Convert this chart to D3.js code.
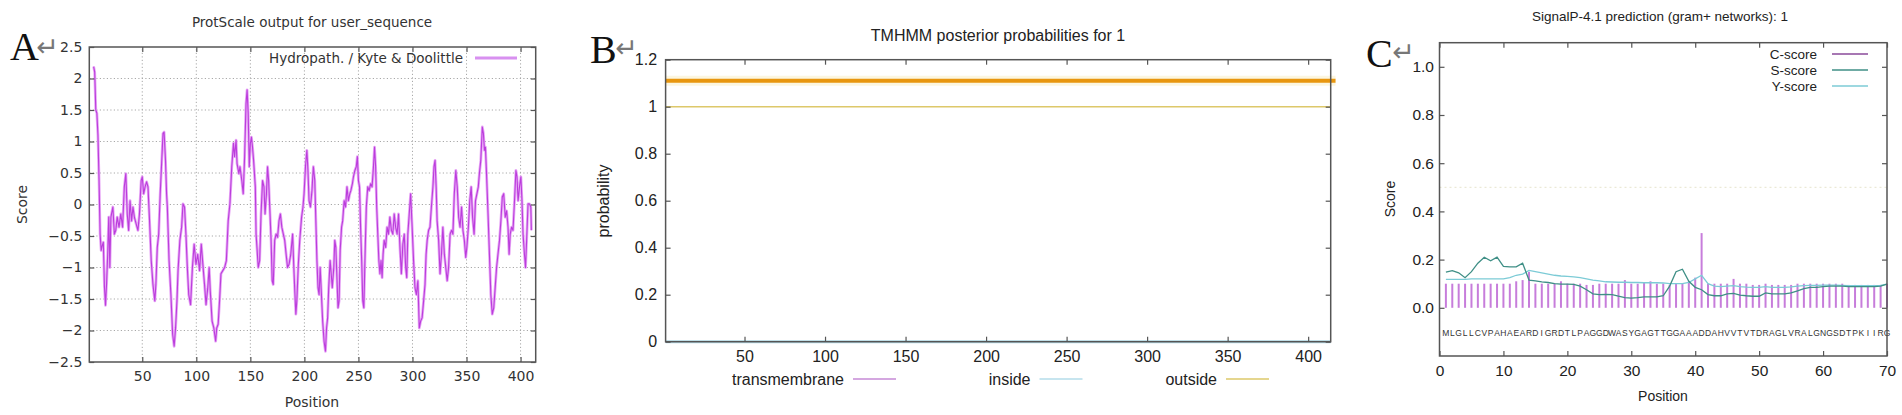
<!DOCTYPE html>
<html><head><meta charset="utf-8">
<script src="https://cdn.jsdelivr.net/npm/d3@7"></script>
<style>body{margin:0;background:#fff;overflow:hidden}</style>
</head><body>
<script>
// ---------- Panel A: ProtScale (Kyte & Doolittle hydropathy) ----------
const protPos = [5,6,7,8,9,10,11,12,13,14,15,16,17,18,19,20,21,22.8,24.2,25.5,26.8,28.5,30.1,31.8,33.4,34.8,36.1,37.4,38.7,40.1,41.4,42.7,44.4,46,47.4,49,50,51.3,52.6,54,55.3,56.6,58.3,59.9,61.6,62.6,63.9,65.2,66.6,68.2,69.2,70.2,71.5,72.5,73.2,74.8,76.5,78.1,79.5,80.8,82.1,83.1,84.8,86.4,87.7,89.1,90.4,91.7,93,94.7,96.4,98,99.7,101.3,103,104.6,106.3,107.6,109,110.6,111.9,112.9,114.6,116.2,117.9,118.9,120.2,121.5,122.8,124.5,126.2,127.8,129.5,131.1,132.8,134.4,135.4,136.8,137.7,139.4,140.4,142.1,143.4,144.7,146,147,148,149,150,151,152,153,154.6,155.3,156.3,157.3,158.6,159.9,161.3,162.6,163.6,164.9,165.9,166.9,168.2,169.2,170.2,171.2,172.5,173.8,175.2,176.5,177.8,179.1,180.5,181.8,183.1,184.4,185.8,187.4,189.1,190.1,191.1,192.1,193,194.4,195.7,197.4,198.7,199.7,201,202.3,203.3,204.3,205.6,207,208.3,209.6,210.6,211.6,212.6,213.6,214.6,215.6,216.9,218.2,219.5,220.5,221.5,222.5,223.8,224.8,225.8,227.2,228.1,229.1,230.1,231.1,232.1,233.1,234.4,235.4,236.8,238.1,239.4,240.7,242,243,244.4,245.4,246.7,248,249,250,251,252,253,254,255,256,257.3,258.6,259.9,261.3,262.6,263.9,264.9,265.9,266.9,267.9,268.9,269.9,270.9,271.9,272.8,273.8,275.2,276.5,277.8,279.1,280.5,281.8,283.1,284.4,285.8,287.1,288.4,289.7,291.1,292.4,293.7,294.7,295.7,297,298.3,299.7,301,302.3,303.6,305,306.3,307.6,308.9,310.3,311.6,312.6,313.6,314.9,316.2,317.5,318.9,319.9,320.9,321.9,322.8,324.2,325.5,326.8,328.1,329.5,330.8,332.1,333.4,334.8,336.1,337.4,338.7,340.1,341.4,342.7,344,345.4,346.7,348,349.3,350.3,351.7,353,354.3,355.6,357,358.3,359.6,360.9,361.9,363.2,364.6,365.6,366.6,367.5,368.5,369.9,371.2,372.5,373.8,375.2,376.5,377.8,379.1,380.5,381.8,383.1,384.4,385.8,387.1,388.4,389.4,390.4,391.7,393,394.4,395.7,396.7,397.7,399,400.3,401.3,402.3,403.6,404.6,405.6,406.9,408.2,409.5,410];
const protScore = [2.19,2.1,1.5,1.45,1.1,0.4,-0.47,-0.73,-0.65,-0.6,-1.3,-1.6,-1.25,-0.8,-0.2,-1.0,-0.2,-0.04,-0.47,-0.41,-0.2,-0.36,-0.15,-0.36,0.28,0.49,-0.15,-0.41,0.06,-0.26,-0.04,-0.2,-0.31,-0.41,-0.15,0.38,0.44,0.17,0.28,0.36,0.28,-0.2,-0.89,-1.27,-1.53,-1.27,-0.68,-0.47,0.17,0.76,1.13,1.15,0.7,0.17,-0.04,-0.89,-1.43,-2.06,-2.25,-1.96,-1.53,-1.05,-0.57,-0.36,0.01,-0.04,-0.47,-1.0,-1.43,-1.59,-1.0,-0.63,-0.95,-0.79,-1.05,-0.63,-1.0,-1.27,-1.59,-1.32,-1.0,-1.37,-1.85,-1.96,-2.17,-1.96,-1.9,-1.53,-1.1,-1.05,-1.0,-0.89,-0.26,0.01,0.6,0.97,0.76,1.02,0.65,0.49,0.6,0.38,0.17,0.76,1.6,1.82,1.45,0.6,0.97,1.07,0.91,0.7,0.28,-0.47,-0.73,-1.0,-0.89,-0.15,0.38,0.28,-0.15,0.17,0.6,0.38,-0.15,-0.57,-1.21,-1.27,-0.57,-0.47,-0.52,-0.26,-0.15,-0.36,-0.47,-0.57,-0.79,-1.0,-0.95,-0.79,-0.47,-0.95,-1.37,-1.74,-1.53,-0.95,-0.57,-0.2,-0.04,0.17,0.6,0.86,0.54,0.06,-0.04,0.22,0.6,0.38,-0.26,-0.89,-1.32,-1.43,-1.0,-1.37,-1.85,-2.17,-2.33,-1.96,-1.8,-1.32,-0.89,-1.1,-1.32,-1.0,-0.57,-0.68,-1.16,-1.64,-1.53,-0.73,-0.36,-0.26,0.06,-0.04,0.28,0.06,0.17,0.22,0.33,0.44,0.54,0.6,0.76,0.38,0.28,-0.36,-0.89,-1.53,-1.64,-0.89,-0.04,0.28,0.22,0.33,0.28,0.6,0.91,0.6,-0.04,-0.47,-0.89,-1.1,-0.89,-1.16,-0.79,-0.57,-0.68,-0.36,-0.47,-0.2,-0.41,-0.47,-0.15,-0.36,-0.47,-0.15,-0.68,-1.1,-0.63,-0.47,-1.0,-1.16,-0.47,-0.15,0.17,-0.36,-0.89,-1.32,-1.43,-1.21,-1.96,-1.85,-1.8,-1.53,-1.27,-0.79,-0.57,-0.41,-0.36,-0.04,0.28,0.6,0.7,0.28,-0.26,-0.57,-1.1,-0.79,-0.36,-0.79,-1.0,-1.21,-1.0,-0.47,-0.41,-0.47,0.17,0.54,0.28,-0.2,-0.36,-0.04,-0.41,-0.57,-0.84,-0.68,-0.36,0.06,0.28,-0.2,-0.47,0.06,0.17,0.28,0.49,0.7,1.23,1.13,0.86,0.91,0.49,-0.15,-0.79,-1.43,-1.74,-1.64,-1.32,-1.0,-0.79,-0.57,-0.26,0.12,0.17,-0.2,-0.1,-0.36,-0.79,-0.47,-0.36,-0.41,0.06,0.54,0.44,0.06,0.28,0.44,0.06,-0.47,-0.79,-1.0,-0.57,0.01,0.01,-0.04,-0.41];
const protXTicks = [50,100,150,200,250,300,350,400];
const protYTicks = [-2.5,-2,-1.5,-1,-0.5,0,0.5,1,1.5,2,2.5];
const protTitle = "ProtScale output for user_sequence";
const protLegend = "Hydropath. / Kyte & Doolittle";

// ---------- Panel B: TMHMM ----------
const tmXTicks = [50,100,150,200,250,300,350,400];
const tmYTicks = [0,0.2,0.4,0.6,0.8,1,1.2];
const tmSpan = [1,414];
const tmTransmembrane = [0,0];
const tmInside = [0,0];
const tmOutside = [1,1];
const tmTopologySpan = [1,417];
const tmTopology = [1.11,1.11];
const tmSeries = ["transmembrane","inside","outside"];
const tmTitle = "TMHMM posterior probabilities for 1";

// ---------- Panel C: SignalP-4.1 ----------
const spSequence = "MLGLLCVPAHAEARDIGRDTLPAGGDWASYGAGTTGGAAADDAHVVTVTDRAGLVRALGNGSDTPKIIRG".split("");
const spC = [0.10,0.10,0.10,0.10,0.10,0.10,0.10,0.10,0.10,0.10,0.10,0.11,0.115,0.15,0.10,0.10,0.10,0.10,0.11,0.10,0.10,0.10,0.095,0.095,0.10,0.10,0.10,0.10,0.115,0.10,0.10,0.105,0.11,0.10,0.10,0.095,0.10,0.10,0.11,0.125,0.31,0.10,0.10,0.10,0.10,0.12,0.10,0.10,0.095,0.095,0.10,0.095,0.095,0.095,0.095,0.10,0.10,0.10,0.10,0.10,0.10,0.10,0.10,0.095,0.095,0.095,0.095,0.095,0.095,0.10];
const spS = [0.148,0.154,0.145,0.125,0.15,0.185,0.21,0.195,0.21,0.172,0.17,0.17,0.185,0.115,0.112,0.108,0.105,0.10,0.098,0.098,0.097,0.09,0.075,0.058,0.055,0.056,0.055,0.048,0.042,0.04,0.042,0.045,0.045,0.045,0.05,0.09,0.15,0.16,0.11,0.085,0.075,0.055,0.05,0.05,0.058,0.06,0.053,0.05,0.048,0.048,0.062,0.058,0.058,0.058,0.062,0.07,0.08,0.085,0.085,0.088,0.09,0.09,0.09,0.088,0.088,0.088,0.088,0.088,0.09,0.098];
const spY = [0.118,0.118,0.118,0.118,0.12,0.12,0.12,0.12,0.12,0.12,0.125,0.135,0.14,0.155,0.15,0.145,0.14,0.135,0.132,0.13,0.128,0.125,0.12,0.115,0.112,0.108,0.107,0.106,0.106,0.105,0.105,0.104,0.104,0.104,0.103,0.1,0.1,0.1,0.105,0.12,0.135,0.1,0.09,0.088,0.09,0.092,0.088,0.086,0.085,0.085,0.088,0.085,0.085,0.085,0.087,0.09,0.092,0.093,0.093,0.094,0.094,0.094,0.093,0.092,0.092,0.092,0.092,0.092,0.093,0.098];
const spXTicks = [0,10,20,30,40,50,60,70];
const spYTicks = [0,0.2,0.4,0.6,0.8,1.0];
const spSeries = ["C-score","S-score","Y-score"];
const spTitle = "SignalP-4.1 prediction (gram+ networks): 1";
const spThreshold = 0.5;

// ================= drawing =================
const svg = d3.select("body").append("svg").attr("width",1902).attr("height",415);

function axes(g, x, y, xt, yt, o){
  const [L,R] = x.range(), [B,T] = y.range();
  g.append("g").attr("transform",`translate(0,${B})`)
    .call(d3.axisBottom(x).tickValues(xt).tickSizeInner(-o.tl).tickSizeOuter(0).tickPadding(o.px).tickFormat(o.fx||d3.format("")))
    .call(a=>a.select(".domain").remove())
    .attr("font-family",o.font).attr("font-size",o.fs).attr("color",o.tc)
    .call(a=>a.selectAll("line").attr("stroke",o.bc).attr("stroke-width",1.2));
  g.append("g").attr("transform",`translate(0,${T})`)
    .call(d3.axisTop(x).tickValues(xt).tickSizeInner(-o.tl).tickSizeOuter(0).tickFormat(""))
    .call(a=>a.select(".domain").remove())
    .call(a=>a.selectAll("line").attr("stroke",o.bc).attr("stroke-width",1.2));
  g.append("g").attr("transform",`translate(${L},0)`)
    .call(d3.axisLeft(y).tickValues(yt).tickSizeInner(-o.tl).tickSizeOuter(0).tickPadding(o.py).tickFormat(o.fy||d3.format("")))
    .call(a=>a.select(".domain").remove())
    .attr("font-family",o.font).attr("font-size",o.fs).attr("color",o.tc)
    .call(a=>a.selectAll("line").attr("stroke",o.bc).attr("stroke-width",1.2));
  g.append("g").attr("transform",`translate(${R},0)`)
    .call(d3.axisRight(y).tickValues(yt).tickSizeInner(-o.tl).tickSizeOuter(0).tickFormat(""))
    .call(a=>a.select(".domain").remove())
    .call(a=>a.selectAll("line").attr("stroke",o.bc).attr("stroke-width",1.2));
  g.append("rect").attr("x",L).attr("y",T).attr("width",R-L).attr("height",B-T)
    .attr("fill","none").attr("stroke",o.bc).attr("stroke-width",o.bw||1.5);
}

function panelLetter(letter, x, base){
  svg.append("text").attr("x",x).attr("y",base).text(letter)
    .attr("font-family","Liberation Serif").attr("font-size",40).attr("fill","#111");
}
function returnMark(x, base){
  svg.append("text").attr("x",x).attr("y",base).text("\u21B5")
    .attr("font-family","DejaVu Sans").attr("font-size",27).attr("fill","#777");
}

// ----- Panel A -----
{
  const g = svg.append("g");
  const x = d3.scaleLinear().domain([1,414]).range([89.3,535.7]);
  const y = d3.scaleLinear().domain([-2.5,2.5]).range([362,47]);
  const F = "DejaVu Sans";
  g.append("g").selectAll("line").data(protXTicks).join("line")
    .attr("x1",d=>x(d)).attr("x2",d=>x(d)).attr("y1",y(-2.5)).attr("y2",y(2.5))
    .attr("stroke","#a8a8a8").attr("stroke-width",1).attr("stroke-dasharray","1.2,2.3");
  g.append("g").selectAll("line").data(protYTicks.slice(1,-1)).join("line")
    .attr("x1",x.range()[0]).attr("x2",x.range()[1]).attr("y1",d=>y(d)).attr("y2",d=>y(d))
    .attr("stroke","#a8a8a8").attr("stroke-width",1).attr("stroke-dasharray","1.2,2.3");
  const pts = protPos.map((p,i)=>[p,protScore[i]]);
  const line = d3.line().x(d=>x(d[0])).y(d=>y(d[1]));
  g.append("path").attr("d",line(pts)).attr("fill","none").attr("stroke","#e8a8f6").attr("stroke-width",2.8).attr("stroke-linejoin","round");
  g.append("path").attr("d",line(pts)).attr("fill","none").attr("stroke","#bb3ddc").attr("stroke-width",1.1).attr("stroke-linejoin","round");
  axes(g,x,y,protXTicks,protYTicks,{tl:5,px:9,py:7,font:F,fs:14,tc:"#333",bc:"#555",fy:d3.format("")});
  g.append("text").attr("x",312).attr("y",26.5).attr("text-anchor","middle").text(protTitle)
    .attr("font-family",F).attr("font-size",13.5).attr("fill","#333");
  g.append("text").attr("x",463).attr("y",63).attr("text-anchor","end").text(protLegend)
    .attr("font-family",F).attr("font-size",13.5).attr("fill","#333");
  g.append("line").attr("x1",475).attr("x2",517).attr("y1",58).attr("y2",58).attr("stroke","#d890f0").attr("stroke-width",3);
  g.append("text").attr("transform","translate(22,204.5) rotate(-90)").attr("dy","0.35em").attr("text-anchor","middle").text("Score")
    .attr("font-family",F).attr("font-size",14).attr("fill","#333");
  g.append("text").attr("x",312).attr("y",407).attr("text-anchor","middle").text("Position")
    .attr("font-family",F).attr("font-size",14).attr("fill","#333");
  panelLetter("A",10,60); returnMark(36,56);
}

// ----- Panel B -----
{
  const g = svg.append("g");
  const x = d3.scaleLinear().domain([1,414]).range([665.6,1330.7]);
  const y = d3.scaleLinear().domain([0,1.2]).range([341.7,59.7]);
  const F = "Liberation Sans";
  const ln = d3.line().x(d=>x(d[0])).y(d=>y(d[1]));
  const toPts = (span,vals)=>span.map((s,i)=>[s,vals[i]]);
  g.append("path").attr("d",ln(toPts(tmTopologySpan,tmTopology))).attr("stroke","#fcf6e0").attr("stroke-width",10).attr("fill","none");
  g.append("path").attr("d",ln(toPts(tmTopologySpan,tmTopology))).attr("stroke","#e8960f").attr("stroke-width",4).attr("fill","none");
  g.append("path").attr("d",ln(toPts(tmSpan,tmOutside))).attr("stroke","#ddc86a").attr("stroke-width",1.4).attr("fill","none");
  g.append("path").attr("d",ln(toPts(tmSpan,tmTransmembrane))).attr("stroke","#c68ad6").attr("stroke-width",1.4).attr("fill","none");
  g.append("path").attr("d",ln(toPts(tmSpan,tmInside))).attr("stroke","#b5dcea").attr("stroke-width",3).attr("fill","none");
  axes(g,x,y,tmXTicks,tmYTicks,{tl:5,px:9,py:8.5,font:F,fs:16,tc:"#222",bc:"#555",fy:d3.format("")});
  g.append("text").attr("x",998).attr("y",41).attr("text-anchor","middle").text(tmTitle)
    .attr("font-family",F).attr("font-size",16).attr("fill","#222");
  g.append("text").attr("transform","translate(603,201) rotate(-90)").attr("dy","0.35em").attr("text-anchor","middle").text("probability")
    .attr("font-family",F).attr("font-size",16).attr("fill","#222");
  const legCol = ["#c68ad6","#b5dcea","#ddc86a"];
  const lx = d3.scaleLinear().domain([0,2]).range([844,1217]);
  tmSeries.forEach((s,i)=>{
    g.append("text").attr("x",lx(i)).attr("y",385).attr("text-anchor","end").text(s)
      .attr("font-family",F).attr("font-size",16).attr("fill","#222");
    g.append("line").attr("x1",lx(i)+9).attr("x2",lx(i)+52).attr("y1",379).attr("y2",379)
      .attr("stroke",legCol[i]).attr("stroke-width",1.6);
  });
  panelLetter("B",590,63); returnMark(615,57);
}

// ----- Panel C -----
{
  const g = svg.append("g");
  const x = d3.scaleLinear().domain([0,70]).range([1439.5,1887]);
  const y = d3.scaleLinear().domain([-0.2,1.1]).range([356,42.7]);
  const F = "Liberation Sans";
  const pos = d3.range(1, spC.length+1);
  g.append("line").attr("x1",x(0)).attr("x2",x(70)).attr("y1",y(spThreshold)).attr("y2",y(spThreshold))
    .attr("stroke","#e6e4cc").attr("stroke-width",1).attr("stroke-dasharray","2,3");
  g.append("g").selectAll("line").data(pos).join("line")
    .attr("x1",d=>x(d)).attr("x2",d=>x(d)).attr("y1",y(0)).attr("y2",(d,i)=>y(spC[i]))
    .attr("stroke","#c77ddb").attr("stroke-width",2);
  const ln = d3.line().x(d=>x(d[0])).y(d=>y(d[1]));
  g.append("path").attr("d",ln(pos.map((p,i)=>[p,spY[i]]))).attr("fill","none").attr("stroke","#7ccbd6").attr("stroke-width",1.3);
  g.append("path").attr("d",ln(pos.map((p,i)=>[p,spS[i]]))).attr("fill","none").attr("stroke","#3f8f86").attr("stroke-width",1.3);
  g.append("g").selectAll("text").data(spSequence).join("text")
    .attr("x",(d,i)=>x(pos[i])).attr("y",335.5).attr("text-anchor","middle").text(d=>d)
    .attr("font-family",F).attr("font-size",8.5).attr("fill","#333");
  axes(g,x,y,spXTicks,spYTicks,{tl:5,px:9,py:5.5,font:F,fs:15.5,tc:"#222",bc:"#555",fy:d3.format(".1f")});
  g.append("text").attr("x",1660).attr("y",21).attr("text-anchor","middle").text(spTitle)
    .attr("font-family",F).attr("font-size",13.5).attr("fill","#222");
  g.append("text").attr("transform","translate(1390,199) rotate(-90)").attr("dy","0.35em").attr("text-anchor","middle").text("Score")
    .attr("font-family",F).attr("font-size",14).attr("fill","#222");
  g.append("text").attr("x",1663).attr("y",401).attr("text-anchor","middle").text("Position")
    .attr("font-family",F).attr("font-size",14).attr("fill","#222");
  const legCol = ["#8a4a9a","#3f8f86","#7ccbd6"];
  const ly = d3.scaleLinear().domain([0,2]).range([54,86]);
  spSeries.forEach((s,i)=>{
    g.append("text").attr("x",1817).attr("y",ly(i)+4.7).attr("text-anchor","end").text(s)
      .attr("font-family",F).attr("font-size",13.5).attr("fill","#222");
    g.append("line").attr("x1",1832).attr("x2",1868).attr("y1",ly(i)).attr("y2",ly(i))
      .attr("stroke",legCol[i]).attr("stroke-width",1.3);
  });
  panelLetter("C",1366,67); returnMark(1392,61);
}
</script>
</body></html>
